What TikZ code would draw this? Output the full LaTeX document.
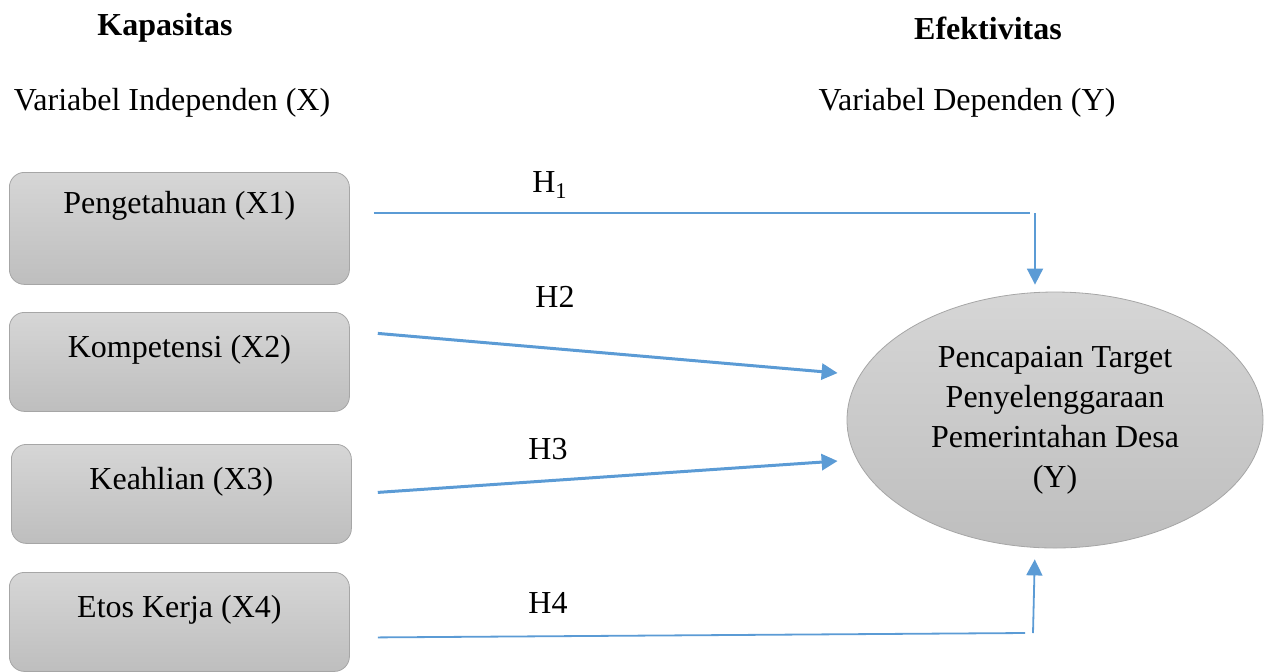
\documentclass[tikz,border=0pt]{standalone}
\usepackage{fontspec}
\setmainfont{Liberation Serif}
\usetikzlibrary{arrows.meta, shapes.geometric}
\definecolor{linkblue}{HTML}{5B9BD5}
\definecolor{boxtop}{HTML}{D6D6D6}
\definecolor{boxbottom}{HTML}{BEBEBE}
\definecolor{boxline}{HTML}{A6A6A6}

\begin{document}
\begin{tikzpicture}[x=0.5pt, y=-0.5pt, >={Triangle[length=8pt, width=8pt]},
    every node/.style={font=\fontsize{16}{20}\selectfont},
    varbox/.style={draw=boxline, top color=boxtop, bottom color=boxbottom,
        rounded corners=7.5pt, minimum width=170pt, inner xsep=0pt, inner ysep=0pt,
        anchor=north west, text height=22.5pt, text depth=27pt},
    target/.style={ellipse, draw=boxline, top color=boxtop, bottom color=boxbottom,
        minimum width=208pt, minimum height=128pt, inner sep=0pt, align=center},
    thinlink/.style={draw=linkblue, line width=0.9pt},
    thicklink/.style={draw=linkblue, line width=1.5pt}]
    \useasboundingbox (0,0) rectangle (1267,671);

    % headings
    \node[font=\fontsize{16}{20}\selectfont\bfseries] (capX) at (165,28) {Kapasitas};
    \node (subX) at (172,103) {Variabel Independen (X)};
    \node[font=\fontsize{16}{20}\selectfont\bfseries] (capY) at (988,28) {Efektivitas};
    \node (subY) at (967,103) {Variabel Dependen (Y)};

    % variables
    \node[varbox, text height=20.5pt, text depth=35.5pt] (X1) at (9,172) {Pengetahuan (X1)};
    \node[varbox] (X2) at (9,312) {Kompetensi (X2)};
    \node[varbox] (X3) at (11,444) {Keahlian (X3)};
    \node[varbox] (X4) at (9,572) {Etos Kerja (X4)};
    \node[target] (Y) at (1055,420) {Pencapaian Target\\Penyelenggaraan\\Pemerintahan Desa\\(Y)};

    \coordinate (k1) at (1035,213);
    \coordinate (k4) at (1033,633);

    % hypotheses
    \draw[thinlink, shorten <=12pt] (X1.east |- k1) -- ([xshift=-2.5pt]k1);
    \draw[thinlink, ->, shorten >=3.5pt] (k1) -- (k1 |- Y.north);
    \draw[thicklink, ->] ([xshift=14pt, yshift=14.25pt]X2.east) -- ([xshift=-4.5pt, yshift=23.5pt]Y.west);
    \draw[thicklink, ->] ([xshift=13pt, yshift=0.75pt]X3.east) -- ([xshift=-4.5pt, yshift=-20.5pt]Y.west);
    \draw[thinlink] ([xshift=14pt, yshift=-7.75pt]X4.east) -- ([xshift=-4pt]k4);
    \draw[thinlink, ->, shorten >=5.5pt] (k4) -- ([xshift=1pt]k4 |- Y.south);

    \node (h1) at (550,185) {H\textsubscript{1}};
    \node (h2) at (555,297) {H2};
    \node (h3) at (548,449) {H3};
    \node (h4) at (548,603) {H4};
\end{tikzpicture}
\end{document}
